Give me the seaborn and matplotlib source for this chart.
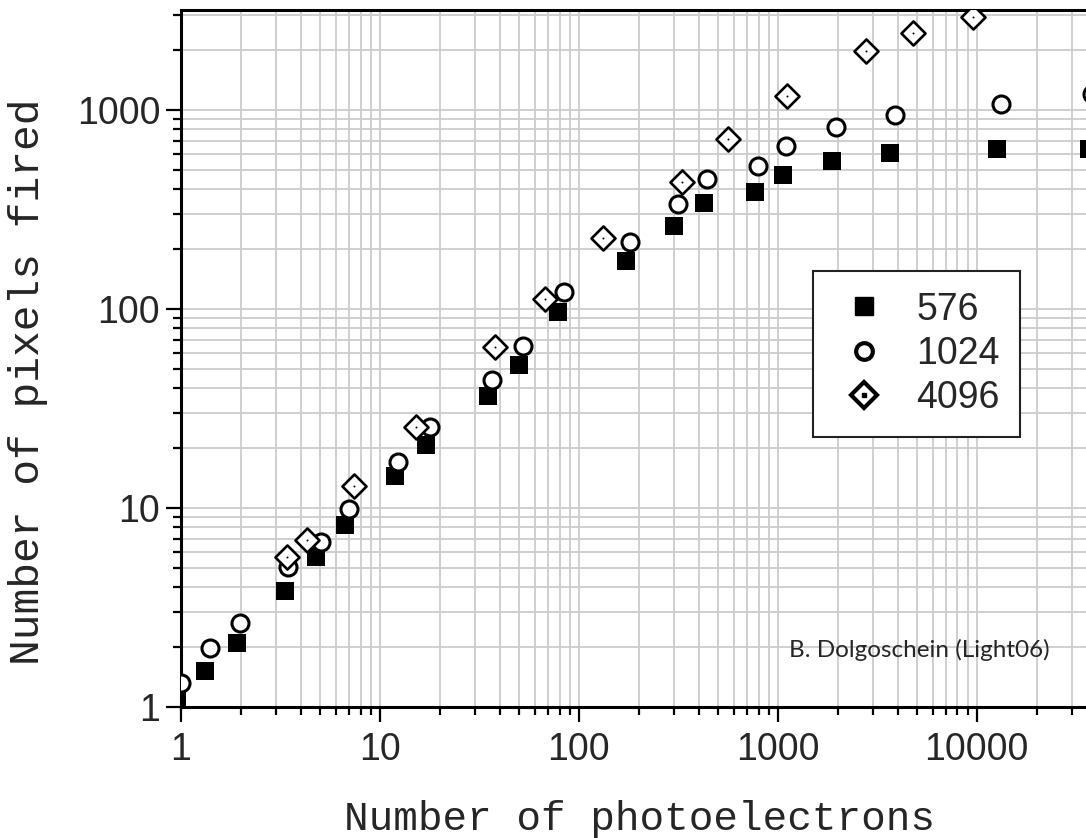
import numpy as np
import pandas as pd
import matplotlib
matplotlib.use("Agg")
import matplotlib.pyplot as plt
import seaborn as sns
from matplotlib.legend_handler import HandlerTuple

# SiPM response: pixels fired vs photoelectrons, three pixel counts
pe_576 = [0.95, 1.32, 1.91, 3.33, 4.77, 6.67, 11.9, 17.0, 34.9, 50.0, 78.5,
          172, 300, 428, 765, 1060, 1878, 3680, 12700, 36700]
px_576 = [1.12, 1.52, 2.10, 3.83, 5.67, 8.2, 14.5, 20.7, 36.6, 52.5, 96.7,
          174, 262, 340, 386, 470, 553, 612, 636, 636]

pe_1024 = [1.0, 1.40, 1.98, 3.45, 5.05, 6.98, 12.3, 17.8, 36.6, 52.3, 84,
           180, 314, 443, 794, 1105, 1960, 3860, 13300, 37900]
px_1024 = [1.32, 1.98, 2.64, 5.05, 6.74, 9.9, 17.0, 25.5, 44.0, 65, 122,
           217, 338, 450, 522, 660, 820, 943, 1070, 1210]

pe_4096 = [3.41, 4.29, 7.4, 15.1, 37.9, 67.4, 132, 330, 560, 1110, 2780, 4760, 9600]
px_4096 = [5.67, 6.9, 12.9, 25.5, 64.5, 112, 228, 433, 717, 1176, 1970, 2430, 2930]

x_ticks = [1, 10, 100, 1000, 10000]
y_ticks = [1, 10, 100, 1000]

df576 = pd.DataFrame({"pe": pe_576, "px": px_576})
df1024 = pd.DataFrame({"pe": pe_1024, "px": px_1024})
df4096 = pd.DataFrame({"pe": pe_4096, "px": px_4096})

sns.set_style("white")
plt.rcParams["font.family"] = ["Liberation Sans", "DejaVu Sans"]

fig = plt.figure(figsize=(10.86, 8.38), dpi=100)
# axes runs past the right edge of the figure, like the cropped original
ax = fig.add_axes([181 / 1086, 131 / 838, 935 / 1086, 697 / 838])
ax.set_xscale("log")
ax.set_yscale("log")
ax.set_xlim(1, 10 ** 4.7)
ax.set_ylim(1, 10 ** 3.503)

ax.grid(True, which="both", color="#cccccc", linewidth=1.3)
ax.set_axisbelow(True)

sns.scatterplot(data=df576, x="pe", y="px", marker="s", s=185, color="black",
                edgecolor="black", linewidth=0, ax=ax, zorder=3)
sns.scatterplot(data=df1024, x="pe", y="px", marker="o", s=150, facecolor="white",
                edgecolor="black", linewidth=2.2, ax=ax, zorder=4)
sns.scatterplot(data=df4096, x="pe", y="px", marker="D", s=150, facecolor="white",
                edgecolor="black", linewidth=1.9, ax=ax, zorder=5)
sns.scatterplot(data=df4096, x="pe", y="px", marker="o", s=2, color="black",
                linewidth=0, ax=ax, zorder=6)
ax.set_xlabel("")
ax.set_ylabel("")

for side in ["left", "bottom", "top"]:
    ax.spines[side].set_linewidth(2.2)
    ax.spines[side].set_color("black")
ax.spines["right"].set_visible(False)

ax.set_xticks(x_ticks)
ax.set_xticklabels([str(v) for v in x_ticks])
ax.set_yticks(y_ticks)
ax.set_yticklabels([str(v) for v in y_ticks])
ax.tick_params(axis="both", which="major", direction="out", length=11, width=1.6,
               labelsize=27, color="black", bottom=True, left=True)
ax.tick_params(axis="both", which="minor", direction="out", length=6, width=1.6,
               color="black", bottom=True, left=True)
ax.tick_params(axis="x", which="major", pad=7)
ax.tick_params(axis="y", which="major", pad=4)

fig.text(640 / 1086, 1 - 830 / 838, "Number of photoelectrons",
         family="Liberation Mono", fontsize=29.5, ha="center", va="baseline")
fig.text(28 / 1086, 1 - 382 / 838, "Number of pixels fired",
         family="Liberation Mono", fontsize=31, ha="center", va="center",
         rotation=90)

h_sq = plt.Line2D([], [], marker="s", ms=13, color="black", linestyle="none")
h_ci = plt.Line2D([], [], marker="o", ms=12, markerfacecolor="white",
                  markeredgecolor="black", markeredgewidth=3, linestyle="none")
h_di = plt.Line2D([], [], marker="D", ms=13, markerfacecolor="white",
                  markeredgecolor="black", markeredgewidth=3, linestyle="none")
h_dot = plt.Line2D([], [], marker="s", ms=3.5, color="black", linestyle="none")
leg = fig.legend([h_sq, h_ci, (h_di, h_dot)], ["576", "1024", "4096"],
                 handler_map={tuple: HandlerTuple(ndivide=1, pad=0)},
                 loc="upper left", bbox_to_anchor=(813 / 1086, 1 - 271 / 838),
                 fontsize=27, frameon=True, fancybox=False, framealpha=1,
                 edgecolor="#222222", borderpad=0.55, labelspacing=0.22,
                 handletextpad=0.6, handlelength=1.6, borderaxespad=0)
leg.get_frame().set_linewidth(1.5)

fig.text(919 / 1086, 1 - 650 / 838, "B. Dolgoschein (Light06)", family="Lato",
         fontsize=17.5, ha="center", va="center")

fig.savefig("out.png", dpi=100)
